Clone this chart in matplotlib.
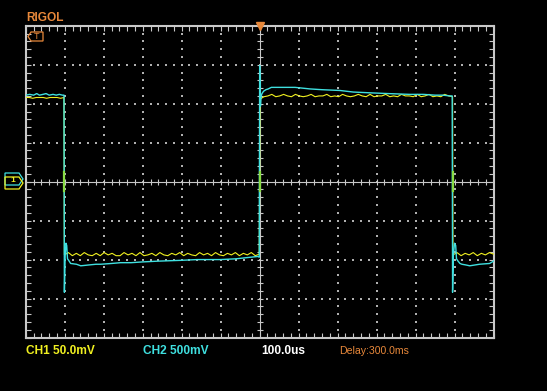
import numpy as np
import matplotlib.pyplot as plt
from matplotlib.patches import Polygon

# Rigol scope screen: 12 x 8 divisions, 100us/div
t_div = 100.0
ch1_scale = 50.0   # mV/div
ch2_scale = 0.5    # V/div

# CH2 (cyan), time in us, value in V
ch2_t = [-600, -590, -580, -572, -565, -556, -548, -540, -530, -522, -514, -506, -502,
         -501, -499, -497, -495, -493, -490, -485, -470, -459, -440, -420, -408, -380, -357,
         -330, -300, -260, -203, -160, -101, -60, -24, -4, -1,
         0, 2, 4, 6, 10, 16, 22, 30, 40, 60, 91, 110, 129, 160, 206, 240, 283, 330, 385, 420,
         450, 470, 488, 494,
         495, 497, 500, 503, 505, 509, 514, 519, 530, 539, 564, 590, 600]
ch2_v = [1.11, 1.12, 1.11, 1.13, 1.11, 1.12, 1.13, 1.11, 1.12, 1.11, 1.12, 1.11, 1.11,
         -1.42, -0.95, -0.79, -0.82, -0.99, -1.01, -1.05, -1.06, -1.08, -1.07, -1.06, -1.06,
         -1.05, -1.04, -1.04, -1.03, -1.02, -1.01, -1.00, -1.00, -0.99, -0.97, -0.96, -0.97,
         1.49, 0.97, 1.10, 1.13, 1.16, 1.18, 1.19, 1.21, 1.21, 1.21, 1.21, 1.20, 1.19, 1.18,
         1.17, 1.15, 1.14, 1.13, 1.12, 1.12, 1.11, 1.11, 1.10, 1.10,
         -1.42, -0.95, -0.79, -0.82, -0.99, -1.02, -1.05, -1.06, -1.07, -1.08, -1.06, -1.05, -1.02]

# CH1 (yellow), mV, read per segment
ch1_edges = [-502, 0, 495]
ch1_high_a = [108, 108, 107, 108, 108, 108, 107, 108, 108, 108, 107, 108]
ch1_low_a = [-94, -91, -95, -92, -95, -91, -94, -95, -92, -95, -91, -94, -92, -95, -95, -91,
             -94, -92, -95, -91, -95, -94, -92, -95, -91, -94, -95, -92, -94, -91, -95, -92,
             -94, -95, -91, -94, -92, -95, -91, -94, -95, -92, -94, -91, -95, -92, -94, -91,
             -95, -93]
ch1_high_b = [106, 109, 110, 112, 109, 110, 112, 110, 109, 112, 110, 109, 110, 112, 109, 110,
              110, 112, 109, 110, 109, 112, 110, 109, 110, 112, 110, 109, 112, 109, 110, 110,
              112, 109, 110, 109, 112, 110, 110, 109, 112, 109, 110, 112, 109, 110, 109, 112,
              110, 109]
ch1_low_b = [-94, -91, -95, -92, -94, -91, -95, -92, -94, -91, -93]

c_cyan = '#3fe0e0'
c_yel = '#f0f020'
c_org = '#e8883a'
c_grid = '#c8c8c8'
fam = ['Liberation Sans', 'DejaVu Sans']

fig = plt.figure(figsize=(5.47, 3.91), dpi=100, facecolor='black')
W, H = 547, 391
x0, x1, y0, y1 = 25.8, 493.5, 25.8, 337.5
ax = fig.add_axes([x0 / W, (H - y1) / H, (x1 - x0) / W, (y1 - y0) / H])
ax.set_facecolor('black')
ax.set_xlim(-6 * t_div, 6 * t_div)
ax.set_ylim(-4, 4)

# dotted graticule
sub_x = np.arange(-600, 601, 20)
sub_y = np.arange(-4, 4.01, 0.2)
for gx in np.arange(-500, 501, 100):
    if gx != 0:
        ax.scatter(np.full(sub_y.size, gx), sub_y, s=0.6, marker='s', color='#b0b0b0', lw=0, zorder=1)
for gy in np.arange(-3, 4, 1):
    if gy != 0:
        ax.scatter(sub_x, np.full(sub_x.size, gy), s=0.6, marker='s', color='#b0b0b0', lw=0, zorder=1)

# center cross with ticks
ax.axhline(0, color=c_grid, lw=0.8, zorder=1)
ax.axvline(0, color=c_grid, lw=0.8, zorder=1)
ax.plot(sub_x, np.zeros(sub_x.size), ls='none', marker='|', ms=4, mew=0.8, color=c_grid, zorder=1)
ax.plot(np.zeros(sub_y.size), sub_y, ls='none', marker='_', ms=4, mew=0.8, color=c_grid, zorder=1)

# frame ticks
ax.set_xticks(np.arange(-600, 601, 100))
ax.set_xticks(sub_x, minor=True)
ax.set_yticks(np.arange(-4, 5, 1))
ax.set_yticks(sub_y, minor=True)
ax.tick_params(which='both', direction='in', length=3.5, width=0.8, color=c_grid,
               top=True, right=True, labelbottom=False, labelleft=False)
for s in ax.spines.values():
    s.set_color(c_grid)
    s.set_linewidth(1.5)

# CH1 trace
e0, e1, e2 = ch1_edges
t1 = np.concatenate([np.linspace(-600, e0, len(ch1_high_a)),
                     np.linspace(e0 + 1, e1 - 1, len(ch1_low_a)),
                     np.linspace(e1 + 1, e2, len(ch1_high_b)),
                     np.linspace(e2 + 1, 600, len(ch1_low_b))])
v1 = np.concatenate([ch1_high_a, ch1_low_a, ch1_high_b, ch1_low_b])
ax.plot(t1, v1 / ch1_scale, color=c_yel, lw=0.8, zorder=3)

# CH2 trace
ax.plot(ch2_t, np.array(ch2_v) / ch2_scale, color=c_cyan, lw=1.0, zorder=4)

# CH1 edge crossing visible at center
for e in ch1_edges:
    ax.plot([e, e], [-0.25, 0.25], color='#88dd44', lw=1.6, zorder=5)

# trigger position marker
ax.plot([0], [4.0], marker='v', ms=6, color=c_org, clip_on=False, zorder=6)


def px(x, y):
    return x / W, 1 - y / H


fig.text(*px(26, 21), 'RIGOL', color=c_org, fontsize=8.6, fontweight='bold',
         family=fam, va='baseline')

# trigger "T" tag in the top-left corner
t_mark = [px(28, 36.5), px(31, 32), px(43, 32), px(43, 41), px(31, 41)]
fig.patches.append(Polygon(t_mark, closed=True, fill=False, ec=c_org, lw=0.9,
                           transform=fig.transFigure, figure=fig))
fig.text(*px(37, 36.8), 'T', color=c_org, fontsize=6.5, ha='center', va='center', family=fam)

# channel ground markers on the left
cyan_mark = [px(5, 173), px(19, 173), px(23, 179), px(19, 185), px(5, 185)]
fig.patches.append(Polygon(cyan_mark, closed=True, fill=False, ec=c_cyan, lw=0.9,
                           transform=fig.transFigure, figure=fig))
yel_mark = [px(5, 177), px(19, 177), px(23, 183), px(19, 189), px(5, 189)]
fig.patches.append(Polygon(yel_mark, closed=True, fill=False, ec=c_yel, lw=0.9,
                           transform=fig.transFigure, figure=fig))
fig.text(*px(13, 181), '1', color=c_yel, fontsize=6, fontweight='bold', ha='center', va='center',
         family=fam)

lab = dict(fontsize=8.6, va='baseline', family=fam)
fig.text(*px(26, 354), 'CH1 50.0mV', color=c_yel, fontweight='bold', **lab)
fig.text(*px(143, 354), 'CH2 500mV', color=c_cyan, fontweight='bold', **lab)
fig.text(*px(261, 354), '100.0us', color='white', fontweight='bold', **lab)
fig.text(*px(339, 354), 'Delay:300.0ms', color=c_org, fontsize=7.6, va='baseline', family=fam)

fig.savefig('out.png', dpi=100, facecolor='black')
